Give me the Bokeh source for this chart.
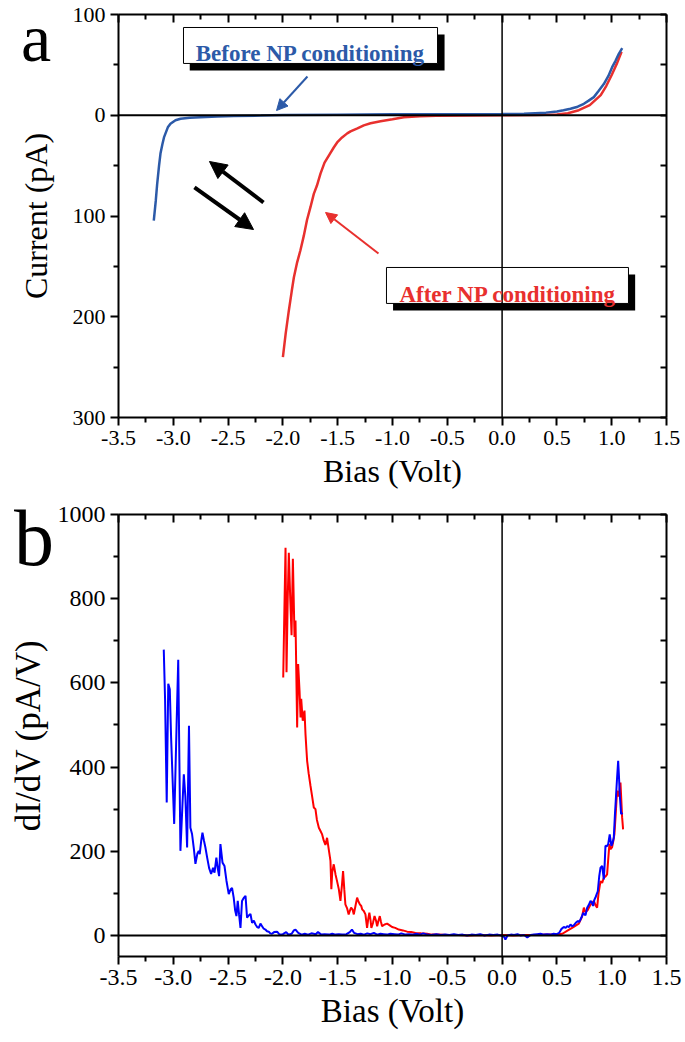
from bokeh.plotting import figure
from bokeh.models import (Range1d, LinearAxis, FixedTicker, Span, Label, Arrow,
                          NormalHead, NumeralTickFormatter, Div)
from bokeh.layouts import column
from bokeh.embed import file_html
from bokeh.resources import INLINE

# ---------------- data: panel a (I-V) ----------------
iv_before_v = [-3.178, -3.16, -3.147, -3.13, -3.117, -3.10, -3.085, -3.071, -3.05, -3.026,
               -2.98, -2.934, -2.85, -2.752, -2.6, -2.448, -2.2, -2.0, -1.5, -1.0, -0.5,
               0.0, 0.2, 0.4, 0.5, 0.56, 0.624, 0.69, 0.746, 0.79, 0.837, 0.88, 0.928,
               0.97, 1.004, 1.035, 1.065, 1.096]
iv_before_i = [-104.5, -85, -68, -50, -38, -29, -22, -18, -12, -8.5,
               -5, -3.5, -2.5, -1.9, -1.2, -0.8, -0.3, 0.2, 0.6, 0.9, 1.0,
               1.2, 1.6, 2.6, 3.7, 5.0, 6.4, 8.5, 11.4, 14.5, 18, 24, 31,
               39, 47.7, 54, 61, 66.6]
iv_after_v = [-2.0, -1.975, -1.946, -1.92, -1.90, -1.87, -1.84, -1.81, -1.78, -1.748,
              -1.718, -1.69, -1.657, -1.62, -1.57, -1.536, -1.505, -1.46, -1.413, -1.383,
              -1.32, -1.262, -1.2, -1.109, -1.0, -0.897, -0.75, -0.6, -0.3, 0.0, 0.3,
              0.5, 0.6, 0.7, 0.8, 0.9, 0.95, 1.0, 1.05, 1.09]
iv_after_i = [-240, -217, -194, -175, -161, -146, -134, -120, -104, -91,
              -78, -70, -58, -47, -38, -32, -27, -22, -18, -16,
              -13, -10, -8, -6, -4, -2, -1, -0.5, -0.2, 0, 0.3,
              0.8, 2, 5, 10, 20, 29, 40, 52, 63]

# ---------------- data: panel b (dI/dV) ----------------
didv_before_v = [-3.087, -3.075, -3.060, -3.046, -3.032, -3.020, -2.992, -2.970, -2.955, -2.935,
                 -2.920, -2.904, -2.890, -2.874, -2.857, -2.844, -2.829, -2.812, -2.798, -2.780,
                 -2.768, -2.759, -2.745, -2.734, -2.720, -2.707, -2.691, -2.673, -2.655, -2.637,
                 -2.624, -2.607, -2.595, -2.582, -2.570, -2.551, -2.533, -2.515, -2.494, -2.476,
                 -2.464, -2.449, -2.436, -2.424, -2.412, -2.400, -2.387, -2.373, -2.355, -2.341,
                 -2.327, -2.310, -2.296, -2.281, -2.265, -2.250, -2.235, -2.220, -2.205, -2.190,
                 -2.175, -2.160, -2.145, -2.129, -2.115, -2.100, -2.080, -2.053, -2.03, -2.00,
                 -1.97, -1.95, -1.92, -1.90, -1.885, -1.86, -1.83, -1.80, -1.77, -1.74,
                 -1.70, -1.68, -1.65, -1.62, -1.58, -1.55, -1.52, -1.49, -1.46, -1.42,
                 -1.39, -1.37, -1.35, -1.32, -1.29, -1.26, -1.23, -1.20, -1.17, -1.14,
                 -1.11, -1.08, -1.05, -1.02, -0.98, -0.95, -0.92, -0.88, -0.85, -0.82,
                 -0.78, -0.75, -0.72, -0.68, -0.65, -0.60, -0.56, -0.52, -0.48, -0.44,
                 -0.40, -0.36, -0.32, -0.28, -0.24, -0.20, -0.16, -0.12, -0.08, -0.04,
                 -0.01, 0.02, 0.03, 0.05, 0.08, 0.11, 0.14, 0.17, 0.20, 0.23,
                 0.26, 0.29, 0.32, 0.35, 0.38, 0.41, 0.44, 0.47, 0.50, 0.52,
                 0.54, 0.563, 0.58, 0.594, 0.61, 0.624, 0.640, 0.654, 0.672, 0.691,
                 0.703, 0.715, 0.728, 0.740, 0.750, 0.761, 0.776, 0.790, 0.807, 0.820,
                 0.831, 0.842, 0.852, 0.863, 0.873, 0.886, 0.898, 0.913, 0.928, 0.936,
                 0.943, 0.956, 0.968, 0.982, 0.997, 1.008, 1.019, 1.030, 1.037, 1.048,
                 1.059, 1.066, 1.073, 1.080, 1.086, 1.098]
didv_before = [679, 560, 316, 598, 585, 470, 265, 500, 655, 201,
               290, 383, 330, 209, 498, 256, 241, 205, 170, 195,
               201, 193, 225, 244, 225, 209, 185, 160, 146, 161,
               149, 185, 160, 141, 217, 173, 165, 130, 98, 110,
               113, 90, 60, 46, 82, 50, 18, 82, 90, 94,
               42, 48, 51, 30, 35, 26, 20, 18, 28, 22,
               16, 14, 10, 9, 5, 4, 8, 9, 2, 3,
               8, 2, 4, 12, 14, 6, 2, 4, 2, 5,
               3, 8, 2, 3, 2, 4, 2, 3, 2, 3,
               8, 14, 6, 3, 4, 2, 5, 3, 6, 2,
               4, 3, 2, 4, 3, 2, 5, 2, 3, 2,
               4, 2, 5, 2, 1, 3, 1, 2, 1, 3,
               1, 2, 0, 2, 1, 3, 0, 2, 1, 2,
               0, -4, -10, 0, 2, 1, 3, 0, 1, -5,
               1, 2, 3, 4, 2, 3, 2, 4, 3, 6,
               15, 20, 18, 22, 20, 26, 22, 24, 30, 34,
               32, 38, 45, 54, 50, 48, 66, 72, 82, 78,
               70, 85, 90, 98, 105, 140, 161, 165, 133, 170,
               213, 212, 217, 240, 213, 220, 232, 290, 320, 370,
               415, 380, 336, 310, 288, 292]

didv_after_v = [-1.997, -1.986, -1.976, -1.967, -1.956, -1.946, -1.933, -1.921, -1.909, -1.894,
                -1.885, -1.870, -1.861, -1.848, -1.839, -1.833, -1.819, -1.803, -1.794, -1.785,
                -1.779, -1.765, -1.748, -1.733, -1.718, -1.703, -1.690, -1.672, -1.657, -1.642,
                -1.627, -1.612, -1.597, -1.582, -1.566, -1.558, -1.550, -1.536, -1.520, -1.506,
                -1.490, -1.475, -1.461, -1.451, -1.440, -1.430, -1.415, -1.400, -1.390, -1.378,
                -1.365, -1.353, -1.338, -1.323, -1.310, -1.298, -1.285, -1.277, -1.262, -1.247,
                -1.232, -1.221, -1.211, -1.200, -1.193, -1.178, -1.164, -1.150, -1.140, -1.128,
                -1.116, -1.105, -1.095, -1.072, -1.049, -1.025, -1.004, -0.975, -0.943, -0.905,
                -0.866, -0.830, -0.790, -0.740, -0.684, -0.640, -0.58, -0.50, -0.40, -0.30,
                -0.20, -0.10, 0.00, 0.10, 0.20, 0.30, 0.40, 0.50, 0.55, 0.60,
                0.65, 0.70, 0.73, 0.746, 0.76, 0.78, 0.80, 0.82, 0.837, 0.852,
                0.867, 0.880, 0.898, 0.913, 0.928, 0.943, 0.958, 0.968, 0.979, 0.990,
                1.004, 1.015, 1.025, 1.037, 1.049, 1.064, 1.080, 1.088, 1.095, 1.104]
didv_after = [613, 780, 921, 625, 800, 909, 800, 713, 895, 709,
              748, 494, 645, 580, 518, 562, 510, 534, 479, 440,
              415, 385, 355, 330, 304, 300, 275, 256, 248, 240,
              225, 215, 232, 205, 177, 110, 150, 169, 145, 129,
              110, 82, 120, 153, 110, 74, 65, 50, 58, 66,
              62, 50, 70, 90, 80, 74, 70, 62, 58, 50,
              18, 40, 54, 35, 18, 30, 46, 35, 22, 35,
              46, 32, 22, 26, 28, 24, 20, 18, 14, 12,
              9, 8, 6, 5, 4, 2, 2, 1, 1, 0,
              1, 0, 1, 0, 1, 1, 2, 2, 4, 12,
              20, 28, 45, 66, 55, 60, 70, 78, 82, 72,
              66, 100, 129, 125, 137, 140, 145, 180, 217, 205,
              210, 225, 241, 290, 344, 330, 363, 320, 281, 252]

# tick definitions
x_major = [-3.5, -3.0, -2.5, -2.0, -1.5, -1.0, -0.5, 0.0, 0.5, 1.0, 1.5]
x_minor = [-3.25, -2.75, -2.25, -1.75, -1.25, -0.75, -0.25, 0.25, 0.75, 1.25]
ya_major = [100, 0, -100, -200, -300]
ya_minor = [50, -50, -150, -250]
ya_labels = {100: "100", 0: "0", -100: "100", -200: "200", -300: "300"}
yb_major = [0, 200, 400, 600, 800, 1000]
yb_minor = [100, 300, 500, 700, 900]

before_text = "Before NP conditioning"
after_text = "After NP conditioning"

SERIF = "Liberation Serif"
BLUE_A = "#2C5AA8"
RED_A = "#E8302E"


def style(p, ticks_major, ticks_minor, tick_fs, label_fs, y_overrides=None):
    p.grid.visible = False
    p.outline_line_color = None
    xt = FixedTicker(ticks=x_major, minor_ticks=x_minor)
    yt = FixedTicker(ticks=ticks_major, minor_ticks=ticks_minor)
    xa, ya = p.xaxis[0], p.yaxis[0]
    xa.ticker = xt
    ya.ticker = yt
    xa.formatter = NumeralTickFormatter(format="0.0")
    if y_overrides:
        ya.major_label_overrides = y_overrides
    for ax in (xa, ya):
        ax.axis_line_width = 2
        ax.major_tick_line_width = 2
        ax.minor_tick_line_width = 2
        ax.major_tick_out = 8
        ax.major_tick_in = 0
        ax.minor_tick_out = 5
        ax.minor_tick_in = 0
        ax.major_label_text_font = SERIF
        ax.major_label_text_font_size = tick_fs
        ax.major_label_text_color = "black"
        ax.axis_label_text_font = SERIF
        ax.axis_label_text_font_style = "normal"
        ax.axis_label_text_color = "black"
    xa.axis_label_text_font_size = label_fs[0]
    ya.axis_label_text_font_size = label_fs[1]
    top = LinearAxis(ticker=xt, major_label_text_font_size="1px", major_label_text_color=None,
                     major_label_standoff=0,
                     axis_line_width=2, major_tick_line_width=2, minor_tick_line_width=2,
                     major_tick_in=8, major_tick_out=0, minor_tick_in=5, minor_tick_out=0)
    right = LinearAxis(ticker=yt, major_label_text_font_size="1px", major_label_text_color=None,
                       major_label_standoff=0,
                       axis_line_width=2, major_tick_line_width=2, minor_tick_line_width=2,
                       major_tick_in=6, major_tick_out=0, minor_tick_in=6, minor_tick_out=0)
    p.add_layout(top, "above")
    p.add_layout(right, "right")
    p.add_layout(Span(location=0, dimension="width", line_color="black", line_width=2))
    p.add_layout(Span(location=0, dimension="height", line_color="black", line_width=1.5))


# ---------------- panel a ----------------
pa = figure(width=685, height=500, x_range=Range1d(-3.5, 1.5), y_range=Range1d(-300, 100),
            output_backend="svg", toolbar_location=None,
            min_border_left=118, min_border_right=19, min_border_top=14, min_border_bottom=83,
            x_axis_label="Bias (Volt)", y_axis_label="Current (pA)")
style(pa, ya_major, ya_minor, "22px", ("32px", "32px"), ya_labels)
pa.xaxis[0].major_label_standoff = 1
pa.xaxis[0].axis_label_standoff = 11
pa.yaxis[0].major_label_standoff = 5
pa.yaxis[0].axis_label_standoff = 16

pa.line(iv_after_v, iv_after_i, line_color=RED_A, line_width=2.5)
pa.line(iv_before_v, iv_before_i, line_color=BLUE_A, line_width=2.5)

# annotation boxes with drop shadow
pa.quad(left=[-2.850], right=[-0.525], top=[80.1], bottom=[44.4], fill_color="black", line_color=None)
pa.quad(left=[-2.907], right=[-0.589], top=[87.1], bottom=[51.4], fill_color="white",
        line_color="black", line_width=1)
pa.add_layout(Label(x=-1.748, y=61.0, text=before_text, text_align="center",
                    text_baseline="alphabetic", text_font=SERIF, text_font_size="23px",
                    text_font_style="bold", text_color=BLUE_A))
pa.quad(left=[-0.995], right=[1.214], top=[-158.1], bottom=[-193.8], fill_color="black", line_color=None)
pa.quad(left=[-1.055], right=[1.153], top=[-151.1], bottom=[-186.8], fill_color="white",
        line_color="black", line_width=1)
pa.add_layout(Label(x=0.054, y=-177.9, text=after_text, text_align="center",
                    text_baseline="alphabetic", text_font=SERIF, text_font_size="23px",
                    text_font_style="bold", text_color=RED_A))

# arrows
pa.add_layout(Arrow(x_start=-1.776, y_start=38.5, x_end=-2.058, y_end=4.7,
                    line_color=BLUE_A, line_width=2,
                    end=NormalHead(size=11, fill_color=BLUE_A, line_color=BLUE_A, line_width=1)))
pa.add_layout(Arrow(x_start=-1.128, y_start=-137.2, x_end=-1.611, y_end=-96.5,
                    line_color=RED_A, line_width=2,
                    end=NormalHead(size=11, fill_color=RED_A, line_color=RED_A, line_width=1)))
pa.add_layout(Arrow(x_start=-2.177, y_start=-86.6, x_end=-2.670, y_end=-45.9,
                    line_color="black", line_width=4,
                    end=NormalHead(size=17, fill_color="black", line_color="black", line_width=1)))
pa.add_layout(Arrow(x_start=-2.807, y_start=-71.7, x_end=-2.268, y_end=-113.4,
                    line_color="black", line_width=4,
                    end=NormalHead(size=17, fill_color="black", line_color="black", line_width=1)))

# ---------------- panel b ----------------
pb = figure(width=685, height=542, x_range=Range1d(-3.5, 1.5), y_range=Range1d(-50, 1000),
            output_backend="svg", toolbar_location=None,
            min_border_left=118, min_border_right=19, min_border_top=14, min_border_bottom=86,
            x_axis_label="Bias (Volt)", y_axis_label="dI/dV (pA/V)")
style(pb, yb_major, yb_minor, "24px", ("33px", "35px"))
pb.xaxis[0].major_label_standoff = 6
pb.xaxis[0].axis_label_standoff = 6
pb.yaxis[0].major_label_standoff = 5
pb.yaxis[0].axis_label_standoff = 7

pb.line(didv_after_v, didv_after, line_color="#FF0000", line_width=2)
pb.line(didv_before_v, didv_before, line_color="#0000FF", line_width=2)


# panel letters, floating over the page (taken out of the column flow)
def letter(text, left, top, size, line_height):
    return Div(text=text, styles={"position": "absolute", "left": f"{left}px", "top": f"{top}px",
                                  "font-family": SERIF, "font-size": f"{size}px",
                                  "line-height": f"{line_height}px", "color": "black",
                                  "margin": "0", "padding": "0", "z-index": "10"})


layout = column(pa, pb, letter("a", 21, 0, 68, 76), letter("b", 14, 498, 80, 80))
open("out.html", "w").write(file_html(layout, INLINE))
